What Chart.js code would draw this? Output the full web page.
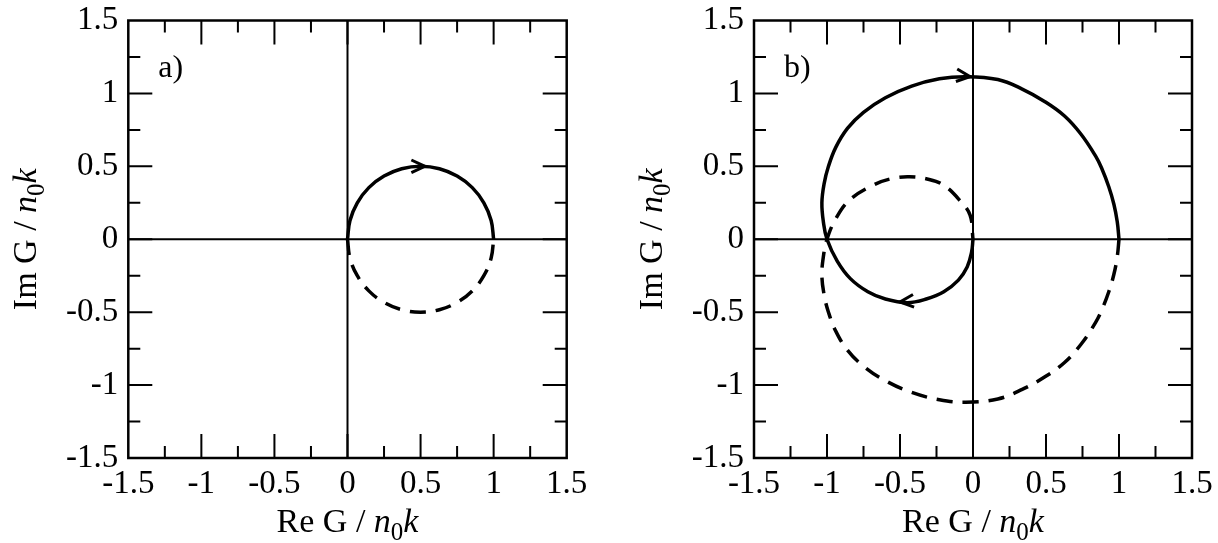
<!DOCTYPE html>
<html><head><meta charset="utf-8">
<script src="https://cdn.jsdelivr.net/npm/chart.js@4/dist/chart.umd.min.js"></script>
<style>
html,body{margin:0;padding:0;background:#fff;}
#wrap{position:relative;width:1218px;height:543px;overflow:hidden;background:#fff;}
canvas{position:absolute;top:0;}
</style>
</head><body>
<div id="wrap">
<canvas id="ca" width="609" height="543" style="left:0"></canvas>
<canvas id="cb" width="609" height="543" style="left:609px"></canvas>
</div>
<script>
// ---- tick values / labels ----
const tickValues = [-1.5, -1, -0.5, 0, 0.5, 1, 1.5];
const tickLabels = ['-1.5', '-1', '-0.5', '0', '0.5', '1', '1.5'];

// ---- panel a: solid (upper half) and dashed (lower half) ----
const aSolidX = [0, 0.017, 0.067, 0.146, 0.25, 0.371, 0.5, 0.629, 0.75, 0.854, 0.933, 0.983, 1];
const aSolidY = [0, 0.129, 0.25, 0.354, 0.433, 0.483, 0.5, 0.483, 0.433, 0.354, 0.25, 0.129, 0];
const aDashX  = [0, 0.017, 0.067, 0.146, 0.25, 0.371, 0.5, 0.629, 0.75, 0.854, 0.933, 0.983, 1];
const aDashY  = [0, -0.129, -0.25, -0.354, -0.433, -0.483, -0.5, -0.483, -0.433, -0.354, -0.25, -0.129, 0];

// ---- panel b ----
const bSolidX = [0, -0.01, -0.04, -0.1, -0.2, -0.32, -0.45, -0.6, -0.72, -0.84, -0.93, -1.0, -1.025, -1.035, -1.02, -0.99, -0.94, -0.86, -0.75, -0.6, -0.42, -0.23, -0.05, 0.17, 0.337, 0.49, 0.627, 0.74, 0.84, 0.88, 0.93, 0.965, 0.988, 1.0];
const bSolidY = [0, -0.09, -0.19, -0.28, -0.36, -0.41, -0.435, -0.41, -0.36, -0.27, -0.15, 0, 0.12, 0.25, 0.38, 0.5, 0.63, 0.76, 0.87, 0.97, 1.05, 1.1, 1.115, 1.095, 1.03, 0.945, 0.845, 0.72, 0.57, 0.49, 0.36, 0.24, 0.12, 0];
const bDashX  = [1.0, 0.988, 0.965, 0.93, 0.88, 0.84, 0.74, 0.627, 0.49, 0.337, 0.17, -0.05, -0.23, -0.42, -0.6, -0.75, -0.86, -0.94, -0.99, -1.02, -1.035, -1.025, -1.0, -0.94, -0.846, -0.686, -0.56, -0.435, -0.3, -0.2, -0.092, -0.02, 0];
const bDashY  = [0, -0.12, -0.24, -0.36, -0.49, -0.57, -0.72, -0.845, -0.945, -1.03, -1.095, -1.117, -1.1, -1.05, -0.97, -0.87, -0.76, -0.63, -0.5, -0.38, -0.25, -0.12, 0, 0.14, 0.268, 0.37, 0.415, 0.428, 0.41, 0.37, 0.268, 0.165, 0];

// ---- arrows (position in data units, direction in degrees) ----
const aArrowX = [0.53];
const aArrowY = [0.5];
const aArrowDir = [0];
const bArrowX = [-0.02, -0.5];
const bArrowY = [1.115, -0.43];
const bArrowDir = [-6, 185];

const FONT = '"Liberation Serif", "Times New Roman", serif';

function pts(xs, ys) { return xs.map((x, i) => ({x: x, y: ys[i]})); }

function drawRich(ctx, parts, cx, cy, rotate) {
  let total = 0;
  parts.forEach(p => {
    ctx.font = (p.italic ? 'italic ' : '') + p.size + 'px ' + FONT;
    p.w = ctx.measureText(p.t).width;
    total += p.w;
  });
  ctx.save();
  ctx.translate(cx, cy);
  if (rotate) ctx.rotate(-Math.PI / 2);
  ctx.fillStyle = '#000';
  ctx.textBaseline = 'alphabetic';
  ctx.textAlign = 'left';
  let x = -total / 2;
  parts.forEach(p => {
    ctx.font = (p.italic ? 'italic ' : '') + p.size + 'px ' + FONT;
    ctx.fillText(p.t, x, p.dy || 0);
    x += p.w;
  });
  ctx.restore();
}

function makeParts(prefix) {
  return [
    {t: prefix + ' G / ', size: 34},
    {t: 'n', size: 34, italic: true},
    {t: '0', size: 25, dy: 8},
    {t: 'k', size: 34, italic: true}
  ];
}

function framePlugin(opts) {
  return {
    id: 'frame',
    beforeDatasetsDraw(chart) {
      const ctx = chart.ctx, a = chart.chartArea;
      const xs = chart.scales.x, ys = chart.scales.y;
      ctx.save();
      ctx.strokeStyle = '#000';
      ctx.lineWidth = 2;
      ctx.beginPath();
      const x0 = xs.getPixelForValue(0), y0 = ys.getPixelForValue(0);
      ctx.moveTo(x0, a.top); ctx.lineTo(x0, a.bottom);
      ctx.moveTo(a.left, y0); ctx.lineTo(a.right, y0);
      ctx.stroke();
      ctx.restore();
    },
    afterDatasetsDraw(chart) {
      const ctx = chart.ctx, a = chart.chartArea;
      const xs = chart.scales.x, ys = chart.scales.y;
      ctx.save();
      ctx.strokeStyle = '#000';
      ctx.lineWidth = 2;
      ctx.beginPath();
      for (let k = -5; k <= 5; k++) {
        const v = k * 0.25;
        const len = (k % 2 === 0) ? 24 : 12;
        const px = xs.getPixelForValue(v), py = ys.getPixelForValue(v);
        ctx.moveTo(px, a.bottom); ctx.lineTo(px, a.bottom - len);
        ctx.moveTo(px, a.top); ctx.lineTo(px, a.top + len);
        ctx.moveTo(a.left, py); ctx.lineTo(a.left + len, py);
        ctx.moveTo(a.right, py); ctx.lineTo(a.right - len, py);
      }
      ctx.stroke();
      ctx.lineWidth = 2.5;
      ctx.strokeRect(a.left, a.top, a.right - a.left, a.bottom - a.top);
      // arrows
      ctx.lineWidth = 3;
      ctx.lineCap = 'butt';
      ctx.lineJoin = 'miter';
      opts.ax.forEach((ax, i) => {
        const px = xs.getPixelForValue(ax), py = ys.getPixelForValue(opts.ay[i]);
        const ang = opts.ad[i] * Math.PI / 180;
        const dx = Math.cos(ang), dy = -Math.sin(ang);
        const L = 15, h = 25 * Math.PI / 180;
        const bx = -dx, by = -dy;
        const w1x = bx * Math.cos(h) - by * Math.sin(h), w1y = bx * Math.sin(h) + by * Math.cos(h);
        const w2x = bx * Math.cos(-h) - by * Math.sin(-h), w2y = bx * Math.sin(-h) + by * Math.cos(-h);
        ctx.beginPath();
        ctx.moveTo(px + w1x * L, py + w1y * L);
        ctx.lineTo(px, py);
        ctx.lineTo(px + w2x * L, py + w2y * L);
        ctx.stroke();
      });
      ctx.restore();
    },
    afterDraw(chart) {
      const ctx = chart.ctx, a = chart.chartArea;
      drawRich(ctx, makeParts('Re'), (a.left + a.right) / 2, 531.5, false);
      drawRich(ctx, makeParts('Im'), a.left - 92, (a.top + a.bottom) / 2, true);
      ctx.save();
      ctx.fillStyle = '#000';
      ctx.font = '32px ' + FONT;
      ctx.textAlign = 'left';
      ctx.textBaseline = 'alphabetic';
      ctx.fillText(opts.label, a.left + 30, 77);
      ctx.restore();
    }
  };
}

function tickCb(value) {
  for (let i = 0; i < tickValues.length; i++) {
    if (Math.abs(tickValues[i] - value) < 1e-9) return tickLabels[i];
  }
  return '';
}

function makeChart(id, solid, dashed, yWidth, rightPad, opts) {
  return new Chart(document.getElementById(id), {
    type: 'scatter',
    data: {
      datasets: [
        {data: solid, showLine: true, borderColor: '#000', borderWidth: 3.5, pointRadius: 0, tension: 0.4, fill: false},
        {data: dashed, showLine: true, borderColor: '#000', borderWidth: 3.5, pointRadius: 0, tension: 0.4, fill: false, borderDash: [16, 10], borderCapStyle: 'butt'}
      ]
    },
    options: {
      responsive: false,
      animation: false,
      devicePixelRatio: 1,
      layout: {padding: {left: 0, top: 20.5, right: rightPad, bottom: 0}},
      plugins: {legend: {display: false}, tooltip: {enabled: false}},
      scales: {
        x: {
          type: 'linear', min: -1.5, max: 1.5,
          grid: {display: false, drawTicks: false},
          border: {display: false},
          ticks: {stepSize: 0.5, color: '#000', font: {family: FONT, size: 33}, padding: 7, maxRotation: 0, autoSkip: false, callback: tickCb},
          afterFit(s) { s.height = 85; s.paddingLeft = 0; s.paddingRight = 0; }
        },
        y: {
          type: 'linear', min: -1.5, max: 1.5,
          grid: {display: false, drawTicks: false},
          border: {display: false},
          ticks: {stepSize: 0.5, color: '#000', font: {family: FONT, size: 33}, padding: 10, autoSkip: false, callback: tickCb},
          afterFit(s) { s.width = yWidth; s.paddingTop = 0; s.paddingBottom = 0; }
        }
      }
    },
    plugins: [framePlugin(opts)]
  });
}

makeChart('ca', pts(aSolidX, aSolidY), pts(aDashX, aDashY), 128.3, 42.3,
  {label: 'a)', ax: aArrowX, ay: aArrowY, ad: aArrowDir});
makeChart('cb', pts(bSolidX, bSolidY), pts(bDashX, bDashY), 145, 26,
  {label: 'b)', ax: bArrowX, ay: bArrowY, ad: bArrowDir});
</script>
</body></html>
